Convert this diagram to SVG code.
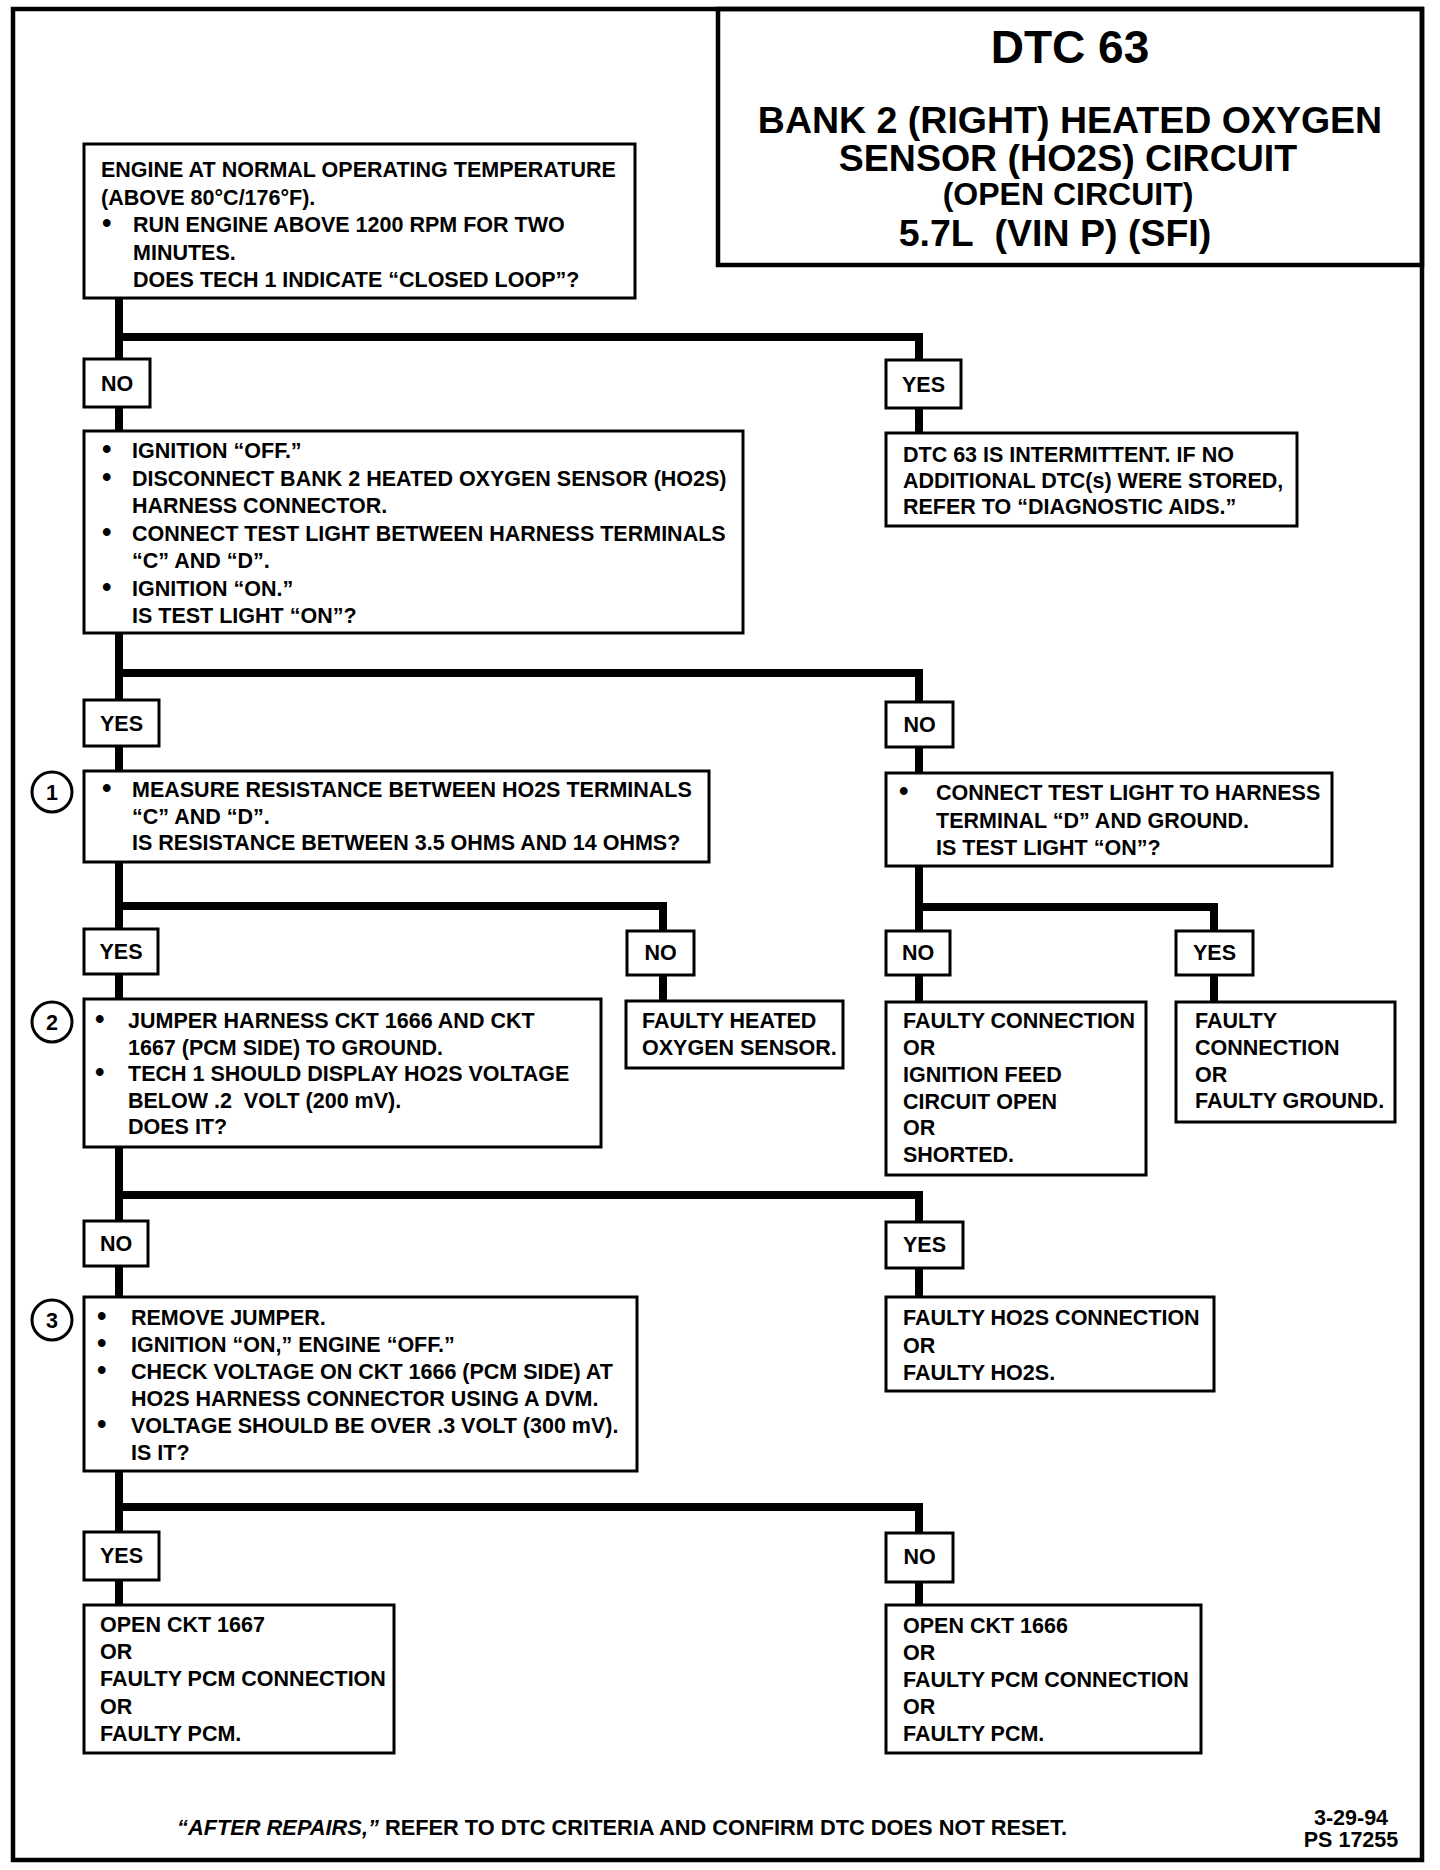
<svg xmlns="http://www.w3.org/2000/svg" width="1440" height="1870" viewBox="0 0 1440 1870">
<style>
.frame{fill:none;stroke:#000;stroke-width:4.5}
.box{fill:#fff;stroke:#000;stroke-width:3}
.lbl{fill:#fff;stroke:#000;stroke-width:3}
.num{fill:#fff;stroke:#000;stroke-width:3}
.conn{fill:none;stroke:#000;stroke-width:8;stroke-linejoin:miter}
text{font-family:"Liberation Sans",Arial,Helvetica,sans-serif;font-weight:bold;fill:#000}
.t{font-size:21.5px}
.bul{font-size:27px}
.c{text-anchor:middle}
.h1{font-size:46px}
.h2{font-size:37.5px}
.h3{font-size:32px}
.ft{font-size:21.8px}
</style>
<rect width="1440" height="1870" fill="#fff"/>
<rect class="frame" x="13" y="9" width="1409" height="1851"/>

<g id="title">
<rect class="frame" x="718" y="9" width="704" height="256"/>
<text class="h1 c" x="1070" y="63">DTC 63</text>
<text class="h2 c" x="1070" y="133">BANK 2 (RIGHT) HEATED OXYGEN</text>
<text class="h2 c" x="1068" y="171">SENSOR (HO2S) CIRCUIT</text>
<text class="h3 c" x="1068" y="205">(OPEN CIRCUIT)</text>
<text class="h2 c" x="1055" y="246">5.7L&#160; (VIN P) (SFI)</text>
</g>

<g id="connectors">
<path class="conn" d="M119,298 V431 M919,433 V337 H119"/>
<path class="conn" d="M119,633 V771 M919,773 V673 H119"/>
<path class="conn" d="M119,862 V999 M663,1001 V906 H119"/>
<path class="conn" d="M919,866 V1002 M1214,1002 V907 H919"/>
<path class="conn" d="M119,1147 V1297 M919,1297 V1195 H119"/>
<path class="conn" d="M119,1471 V1605 M919,1605 V1507 H119"/>
</g>

<g id="start">
<rect class="box" x="84" y="144" width="551" height="154"/>
<text class="t" x="101" y="177">ENGINE AT NORMAL OPERATING TEMPERATURE</text>
<text class="t" x="101" y="204.5">(ABOVE 80°C/176°F).</text>
<text class="t" x="102" y="232"><tspan class="bul">•</tspan><tspan x="133">RUN ENGINE ABOVE 1200 RPM FOR TWO</tspan></text>
<text class="t" x="133" y="259.5">MINUTES.</text>
<text class="t" x="133" y="287">DOES TECH 1 INDICATE “CLOSED LOOP”?</text>
</g>

<g id="lbl-no-1">
<rect class="lbl" x="84" y="359" width="66" height="48"/>
<text class="t c" x="117" y="391">NO</text>
</g>
<g id="lbl-yes-1">
<rect class="lbl" x="886" y="360" width="75" height="48"/>
<text class="t c" x="923.5" y="392">YES</text>
</g>

<g id="ignition-off">
<rect class="box" x="84" y="431" width="659" height="202"/>
<text class="t" x="102" y="458"><tspan class="bul">•</tspan><tspan x="132">IGNITION “OFF.”</tspan></text>
<text class="t" x="102" y="485.5"><tspan class="bul">•</tspan><tspan x="132">DISCONNECT BANK 2 HEATED OXYGEN SENSOR (HO2S)</tspan></text>
<text class="t" x="132" y="513">HARNESS CONNECTOR.</text>
<text class="t" x="102" y="540.5"><tspan class="bul">•</tspan><tspan x="132">CONNECT TEST LIGHT BETWEEN HARNESS TERMINALS</tspan></text>
<text class="t" x="132" y="568">“C” AND “D”.</text>
<text class="t" x="102" y="595.5"><tspan class="bul">•</tspan><tspan x="132">IGNITION “ON.”</tspan></text>
<text class="t" x="132" y="623">IS TEST LIGHT “ON”?</text>
</g>

<g id="intermittent">
<rect class="box" x="886" y="433" width="411" height="93"/>
<text class="t" x="903" y="462">DTC 63 IS INTERMITTENT. IF NO</text>
<text class="t" x="903" y="488">ADDITIONAL DTC(s) WERE STORED,</text>
<text class="t" x="903" y="514">REFER TO “DIAGNOSTIC AIDS.”</text>
</g>

<g id="lbl-yes-2">
<rect class="lbl" x="84" y="700" width="75" height="46"/>
<text class="t c" x="121.5" y="731">YES</text>
</g>
<g id="lbl-no-2">
<rect class="lbl" x="886" y="702" width="67" height="45"/>
<text class="t c" x="919.5" y="732">NO</text>
</g>

<g id="step1">
<circle class="num" cx="52" cy="792" r="20"/>
<text class="t c" x="52" y="800">1</text>
<rect class="box" x="84" y="771" width="625" height="91"/>
<text class="t" x="102" y="797"><tspan class="bul">•</tspan><tspan x="132">MEASURE RESISTANCE BETWEEN HO2S TERMINALS</tspan></text>
<text class="t" x="132" y="823.5">“C” AND “D”.</text>
<text class="t" x="132" y="850">IS RESISTANCE BETWEEN 3.5 OHMS AND 14 OHMS?</text>
</g>

<g id="terminal-d">
<rect class="box" x="886" y="773" width="446" height="93"/>
<text class="t" x="899" y="800"><tspan class="bul">•</tspan><tspan x="936">CONNECT TEST LIGHT TO HARNESS</tspan></text>
<text class="t" x="936" y="827.5">TERMINAL “D” AND GROUND.</text>
<text class="t" x="936" y="855">IS TEST LIGHT “ON”?</text>
</g>

<g id="lbl-yes-3">
<rect class="lbl" x="84" y="929" width="74" height="45"/>
<text class="t c" x="121" y="959">YES</text>
</g>
<g id="lbl-no-3">
<rect class="lbl" x="627" y="931" width="67" height="44"/>
<text class="t c" x="660.5" y="960">NO</text>
</g>
<g id="lbl-no-3r">
<rect class="lbl" x="886" y="931" width="64" height="44"/>
<text class="t c" x="918" y="960">NO</text>
</g>
<g id="lbl-yes-3r">
<rect class="lbl" x="1176" y="931" width="77" height="44"/>
<text class="t c" x="1214.5" y="960">YES</text>
</g>

<g id="step2">
<circle class="num" cx="52" cy="1022" r="20"/>
<text class="t c" x="52" y="1030">2</text>
<rect class="box" x="84" y="999" width="517" height="148"/>
<text class="t" x="95" y="1028"><tspan class="bul">•</tspan><tspan x="128">JUMPER HARNESS CKT 1666 AND CKT</tspan></text>
<text class="t" x="128" y="1054.5">1667 (PCM SIDE) TO GROUND.</text>
<text class="t" x="95" y="1081"><tspan class="bul">•</tspan><tspan x="128">TECH 1 SHOULD DISPLAY HO2S VOLTAGE</tspan></text>
<text class="t" x="128" y="1107.5">BELOW .2&#160; VOLT (200 mV).</text>
<text class="t" x="128" y="1134">DOES IT?</text>
</g>

<g id="faulty-sensor">
<rect class="box" x="626" y="1001" width="217" height="67"/>
<text class="t" x="642" y="1028">FAULTY HEATED</text>
<text class="t" x="642" y="1055">OXYGEN SENSOR.</text>
</g>

<g id="faulty-ignition">
<rect class="box" x="886" y="1002" width="260" height="173"/>
<text class="t" x="903" y="1028">FAULTY CONNECTION</text>
<text class="t" x="903" y="1055">OR</text>
<text class="t" x="903" y="1082">IGNITION FEED</text>
<text class="t" x="903" y="1108.5">CIRCUIT OPEN</text>
<text class="t" x="903" y="1135">OR</text>
<text class="t" x="903" y="1162">SHORTED.</text>
</g>

<g id="faulty-ground">
<rect class="box" x="1176" y="1002" width="219" height="120"/>
<text class="t" x="1195" y="1028">FAULTY</text>
<text class="t" x="1195" y="1055">CONNECTION</text>
<text class="t" x="1195" y="1082">OR</text>
<text class="t" x="1195" y="1108">FAULTY GROUND.</text>
</g>

<g id="lbl-no-4">
<rect class="lbl" x="84" y="1221" width="64" height="45"/>
<text class="t c" x="116" y="1251">NO</text>
</g>
<g id="lbl-yes-4">
<rect class="lbl" x="886" y="1222" width="77" height="46"/>
<text class="t c" x="924.5" y="1252">YES</text>
</g>

<g id="step3">
<circle class="num" cx="52" cy="1320" r="20"/>
<text class="t c" x="52" y="1328">3</text>
<rect class="box" x="84" y="1297" width="553" height="174"/>
<text class="t" x="97" y="1325"><tspan class="bul">•</tspan><tspan x="131">REMOVE JUMPER.</tspan></text>
<text class="t" x="97" y="1352"><tspan class="bul">•</tspan><tspan x="131">IGNITION “ON,” ENGINE “OFF.”</tspan></text>
<text class="t" x="97" y="1379"><tspan class="bul">•</tspan><tspan x="131">CHECK VOLTAGE ON CKT 1666 (PCM SIDE) AT</tspan></text>
<text class="t" x="131" y="1406">HO2S HARNESS CONNECTOR USING A DVM.</text>
<text class="t" x="97" y="1433"><tspan class="bul">•</tspan><tspan x="131">VOLTAGE SHOULD BE OVER .3 VOLT (300 mV).</tspan></text>
<text class="t" x="131" y="1460">IS IT?</text>
</g>

<g id="faulty-ho2s">
<rect class="box" x="886" y="1297" width="328" height="94"/>
<text class="t" x="903" y="1325">FAULTY HO2S CONNECTION</text>
<text class="t" x="903" y="1352.5">OR</text>
<text class="t" x="903" y="1380">FAULTY HO2S.</text>
</g>

<g id="lbl-yes-5">
<rect class="lbl" x="84" y="1532" width="75" height="48"/>
<text class="t c" x="121.5" y="1563">YES</text>
</g>
<g id="lbl-no-5">
<rect class="lbl" x="886" y="1533" width="67" height="49"/>
<text class="t c" x="919.5" y="1564">NO</text>
</g>

<g id="open-1667">
<rect class="box" x="84" y="1605" width="310" height="148"/>
<text class="t" x="100" y="1632">OPEN CKT 1667</text>
<text class="t" x="100" y="1659">OR</text>
<text class="t" x="100" y="1686">FAULTY PCM CONNECTION</text>
<text class="t" x="100" y="1713.5">OR</text>
<text class="t" x="100" y="1741">FAULTY PCM.</text>
</g>

<g id="open-1666">
<rect class="box" x="886" y="1605" width="315" height="148"/>
<text class="t" x="903" y="1633">OPEN CKT 1666</text>
<text class="t" x="903" y="1660">OR</text>
<text class="t" x="903" y="1687">FAULTY PCM CONNECTION</text>
<text class="t" x="903" y="1714">OR</text>
<text class="t" x="903" y="1741">FAULTY PCM.</text>
</g>

<g id="footer">
<text class="ft" x="177" y="1835"><tspan font-style="italic">“AFTER REPAIRS,”</tspan> REFER TO DTC CRITERIA AND CONFIRM DTC DOES NOT RESET.</text>
<text class="t c" x="1351" y="1825">3-29-94</text>
<text class="t c" x="1351" y="1847">PS 17255</text>
</g>
</svg>
